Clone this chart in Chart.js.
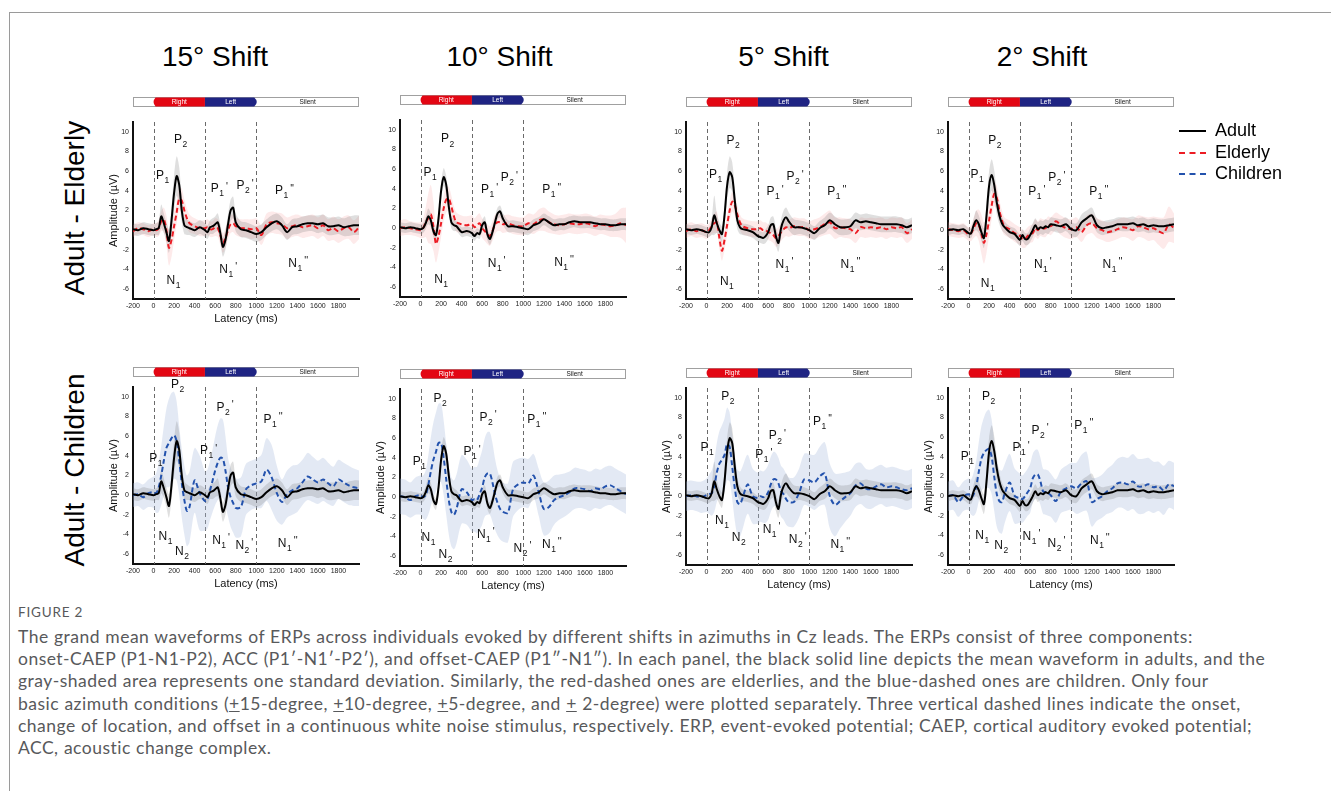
<!DOCTYPE html>
<html lang="en">
<head>
<meta charset="utf-8">
<title>Figure 2 - ERP grand mean waveforms</title>
<script src="https://cdn.jsdelivr.net/npm/chart.js@4"></script>
<style>
  body { margin: 0; width: 1331px; height: 791px; background: #fff; position: relative; overflow: hidden;
         font-family: "Liberation Sans", Arial, sans-serif; color: #000; }
  .frame { position: absolute; left: 9px; top: 12px; width: 1330px; height: 800px;
           border-top: 1px solid #9a9a9a; border-left: 1px solid #9a9a9a; }
  .coltitle { position: absolute; top: 57px; font-size: 28px; transform: translate(-50%, -50%); white-space: nowrap; }
  .rowlabel { position: absolute; font-size: 28px; white-space: nowrap; transform: translate(-50%, -50%) rotate(-90deg); }
  canvas { position: absolute; }
  .legend { position: absolute; left: 1179px; top: 120px; font-size: 18px; }
  .legend div { height: 21.5px; line-height: 21.5px; white-space: nowrap; }
  .legend span { display: inline-block; width: 27px; margin-right: 9px; vertical-align: middle; }
  .caption { position: absolute; left: 18px; font-family: Lato, "Open Sans", sans-serif; color: #58595b; }
  .caption.fig { top: 604px; font-size: 13.5px; letter-spacing: 0.8px; }
  .caption.text { top: 626px; font-size: 17.5px; line-height: 22.2px; letter-spacing: 0.48px; word-spacing: 0.4px; white-space: nowrap; }
</style>
</head>
<body>
<div class="frame"></div>
<script>
// latency grid (ms) shared by every waveform
const latency = [-200, -150, -100, -50, 0,
  25, 50, 75, 100, 125, 150, 175, 200, 225, 250, 275, 300, 325, 350,
  400, 450, 500,
  525, 550, 575, 600, 625, 650, 675, 700, 725, 750, 775, 800,
  850, 900, 950, 1000,
  1050, 1100, 1150, 1200, 1250, 1300, 1350, 1400,
  1450, 1500, 1550, 1600, 1650, 1700, 1750, 1800, 1850, 1900, 1950, 2000];

const xTicks = [-200, 0, 200, 400, 600, 800, 1000, 1200, 1400, 1600, 1800];
const yTicks = [-6, -4, -2, 0, 2, 4, 6, 8, 10];
const eventTimes = [0, 500, 1000];
const stimulus = [
  { label: 'Right', from: 0, to: 500 },
  { label: 'Left', from: 500, to: 1000 },
  { label: 'Silent', from: 1000, to: 2000 }
];
const shiftTitles = ['15° Shift', '10° Shift', '5° Shift', '2° Shift'];
const rowTitles = ['Adult - Elderly', 'Adult - Children'];
const groupNames = ['Adult', 'Elderly', 'Children'];

// ---- 15 degree ----
const adult15 = [0.1, 0.0, 0.2, 0.1, 0.0,
  0.1, 0.2, 1.4, 0.7, -0.2, -1.1, 1.0, 3.8, 5.5, 4.6, 2.0, 0.5, 0.3, 0.2,
  0.0, 0.3, 0.0,
  -0.2, 0.3, 0.4, 0.6, 0.8, -0.3, -1.7, -1.0, 0.6, 2.0, 2.3, 0.8,
  0.1, 0.0, -0.2, -0.4,
  -0.2, 0.3, 0.7, 0.9, 0.5, -0.2, 0.3, 0.4,
  0.6, 0.7, 0.7, 0.6, 0.7, 0.4, 0.4, 0.5, 0.3, 0.4, 0.5, 0.5];
const adultSd15 = [0.6, 0.6, 0.6, 0.6, 0.6,
  0.6, 0.7, 1.2, 1.0, 1.0, 1.2, 1.4, 1.8, 2.0, 1.8, 1.2, 0.9, 0.8, 0.7,
  0.7, 0.7, 0.7,
  0.7, 0.7, 0.8, 0.8, 0.9, 0.9, 1.0, 1.0, 1.0, 1.1, 1.1, 0.9,
  0.8, 0.8, 0.8, 0.8,
  0.8, 0.8, 0.8, 0.8, 0.8, 0.8, 0.8, 0.8,
  0.8, 0.8, 0.8, 0.9, 0.9, 0.9, 0.9, 0.9, 0.9, 1.0, 1.0, 1.0];
const elderly15 = [-0.1, 0.2, 0.1, -0.1, 0.1,
  0.0, 0.2, 0.9, 1.1, 0.0, -1.8, -1.0, 0.4, 1.8, 3.2, 3.0, 2.0, 1.2, 0.7,
  0.4, 0.2, 0.2,
  0.3, 0.1, 0.1, 0.3, 0.2, -0.5, -1.3, -0.8, 0.0, 0.6, 0.7, 0.4,
  0.2, 0.2, 0.1, 0.2,
  -0.5, 0.6, 0.8, 0.7, 0.6, 0.2, 0.4, 0.5,
  0.3, 0.4, 0.5, 0.2, 0.5, 0.0, 0.2, -0.1, 0.2, 0.3, -0.2, 0.3];
const elderlySd15 = [0.6, 0.6, 0.6, 0.6, 0.6,
  0.7, 0.8, 1.0, 1.2, 1.5, 1.8, 1.7, 1.4, 1.2, 1.2, 1.2, 1.1, 1.0, 0.9,
  0.8, 0.8, 0.8,
  0.8, 0.8, 0.8, 0.9, 0.9, 1.0, 1.0, 1.0, 0.9, 0.9, 0.9, 0.9,
  0.9, 0.9, 1.0, 1.0,
  1.0, 1.1, 1.1, 1.1, 1.1, 1.1, 1.1, 1.1,
  1.1, 1.1, 1.1, 1.1, 1.1, 1.1, 1.2, 1.2, 1.2, 1.2, 1.2, 1.2];
const children15 = [0.0, 0.1, -0.2, 0.2, 0.3,
  0.2, 0.8, 2.0, 3.5, 4.8, 5.3, 5.8, 6.1, 5.5, 3.5, 1.2, -0.5, -1.6, -1.2,
  1.5, 0.2, -0.6,
  -0.4, 0.5, 1.5, 2.5, 3.3, 3.8, 3.7, 2.5, 0.8, -0.2, -0.8, -1.3,
  -1.2, 0.6, 1.0, 1.2,
  1.4, 2.6, 1.8, 0.2, -0.7, 0.1, 0.5, 0.7,
  1.3, 1.9, 1.6, 1.3, 1.6, 1.2, 0.9, 1.6, 1.3, 1.0, 0.8, 0.7];
const childrenSd15 = [1.2, 1.2, 1.3, 1.4, 1.6,
  2.0, 2.5, 3.0, 3.5, 4.0, 4.5, 4.6, 4.4, 4.0, 3.5, 3.5, 3.5, 3.6, 3.6,
  3.3, 3.8, 3.0,
  3.0, 3.0, 3.2, 3.5, 3.8, 4.0, 4.0, 3.5, 3.0, 3.0, 3.0, 3.0,
  3.0, 2.6, 2.5, 2.5,
  2.7, 3.2, 3.3, 2.8, 2.3, 2.4, 2.5, 2.4,
  2.3, 2.4, 2.3, 2.2, 2.2, 2.1, 2.0, 2.0, 2.0, 2.0, 1.9, 1.8];

// ---- 10 degree ----
const adult10 = [0.1, 0.0, 0.1, 0.0, -0.1,
  0.0, 0.5, 1.2, 0.8, -0.3, -0.7, 1.0, 3.8, 5.2, 4.4, 2.2, 0.6, 0.3, 0.2,
  -0.4, -0.3, -0.5,
  -0.8, -0.5, -0.6, 0.3, 0.6, -0.6, -1.1, -0.4, 0.6, 1.5, 1.7, 1.0,
  0.2, 0.2, 0.1, 0.0,
  -0.1, 0.3, 0.5, 0.9, 0.6, 0.3, 0.4, 0.4,
  0.6, 0.7, 0.6, 0.6, 0.6, 0.5, 0.4, 0.4, 0.3, 0.3, 0.4, 0.4];
const adultSd10 = [0.5, 0.5, 0.5, 0.5, 0.5,
  0.5, 0.6, 0.8, 0.7, 0.6, 0.6, 0.7, 0.8, 0.9, 0.9, 0.8, 0.6, 0.6, 0.5,
  0.5, 0.5, 0.5,
  0.5, 0.5, 0.5, 0.5, 0.6, 0.6, 0.6, 0.6, 0.6, 0.6, 0.6, 0.6,
  0.6, 0.6, 0.6, 0.6,
  0.6, 0.6, 0.6, 0.6, 0.6, 0.6, 0.6, 0.6,
  0.6, 0.6, 0.6, 0.6, 0.6, 0.6, 0.6, 0.6, 0.6, 0.6, 0.6, 0.6];
const elderly10 = [0.0, 0.1, 0.0, -0.1, -0.2,
  0.0, 0.6, 1.0, 1.4, 0.2, -1.6, -0.8, 0.5, 2.0, 2.9, 3.0, 2.2, 1.2, 0.6,
  0.4, 0.3, 0.4,
  0.1, 0.3, 0.5, 0.0, -0.3, -0.6, -0.8, -0.3, 0.4, 0.6, 0.6, 0.4,
  0.5, 0.3, 0.2, 0.2,
  0.5, 0.4, 0.8, 0.9, 0.6, 0.4, 0.3, 0.4,
  0.5, 0.4, 0.4, 0.5, 0.4, 0.2, 0.4, 0.3, 0.2, 0.3, 0.5, 0.3];
const elderlySd10 = [0.8, 0.8, 0.7, 0.7, 0.8,
  1.0, 1.5, 2.5, 3.0, 2.5, 1.9, 1.6, 1.4, 1.3, 1.3, 1.2, 1.1, 1.0, 1.0,
  0.9, 0.9, 0.9,
  0.9, 1.0, 1.0, 1.0, 1.0, 1.0, 1.0, 1.0, 1.0, 0.9, 0.9, 0.9,
  0.9, 0.9, 0.9, 0.9,
  1.0, 1.0, 1.1, 1.2, 1.1, 1.0, 1.0, 1.0,
  1.0, 1.0, 1.0, 1.0, 1.0, 1.0, 1.0, 1.0, 1.1, 1.2, 1.5, 1.8];
const children10 = [0.1, 0.0, -0.3, 0.1, 0.2,
  0.0, 0.2, 1.2, 2.6, 3.8, 4.6, 5.5, 5.5, 4.0, 1.8, -0.3, -1.5, -1.8, -1.2,
  0.8, 0.5, -0.3,
  -0.2, -0.3, 0.3, 1.0, 2.0, 2.4, 2.4, 1.5, 0.3, -0.6, -1.2, -1.5,
  -1.6, 0.8, 1.3, 1.5,
  1.4, 2.2, 0.5, -1.2, -1.0, -0.3, 0.0, 0.2,
  0.5, 0.9, 0.9, 0.8, 0.6, 0.9, 0.8, 1.1, 1.2, 0.9, 0.6, 0.3];
const childrenSd10 = [1.8, 1.8, 1.8, 1.9, 2.0,
  2.2, 2.5, 3.0, 3.5, 3.8, 4.0, 4.0, 4.0, 3.8, 3.6, 3.5, 3.5, 3.5, 3.5,
  3.5, 3.3, 3.2,
  3.3, 3.4, 3.6, 3.8, 4.0, 4.2, 4.2, 4.0, 3.6, 3.3, 3.1, 3.0,
  3.0, 2.8, 2.6, 2.5,
  2.5, 2.2, 2.4, 2.7, 2.7, 2.5, 2.3, 2.2,
  2.1, 2.1, 2.0, 2.0, 2.0, 2.0, 2.0, 2.0, 2.0, 2.0, 2.0, 2.0];

// ---- 5 degree ----
const adult5 = [0.1, 0.0, 0.1, 0.0, -0.2,
  -0.2, 0.3, 1.5, 0.7, 0.0, -0.4, 1.5, 4.5, 5.9, 5.4, 3.0, 1.0, 0.3, 0.1,
  0.0, -0.2, -0.6,
  -0.7, -0.8, -0.6, -0.2, 0.5, 0.6, -0.6, -1.3, 0.2, 1.0, 1.3, 0.9,
  0.3, 0.3, 0.2, 0.0,
  -0.3, 0.2, 0.5, 1.0, 0.6, 0.3, 0.3, 0.4,
  1.0, 0.8, 0.9, 0.8, 0.7, 0.6, 0.6, 0.6, 0.6, 0.5, 0.3, 0.5];
const adultSd5 = [0.5, 0.5, 0.5, 0.5, 0.5,
  0.5, 0.8, 2.0, 1.0, 0.8, 0.8, 1.0, 1.4, 1.6, 1.5, 1.2, 0.9, 0.7, 0.6,
  0.6, 0.6, 0.6,
  0.6, 0.6, 0.7, 0.7, 0.8, 0.8, 0.9, 0.9, 0.9, 1.0, 1.0, 0.9,
  0.8, 0.7, 0.7, 0.7,
  0.7, 0.7, 0.8, 0.8, 0.8, 0.8, 0.8, 0.8,
  0.8, 0.8, 0.8, 0.8, 0.8, 0.8, 0.8, 0.8, 0.8, 0.8, 0.8, 0.8];
const elderly5 = [-0.1, 0.1, -0.1, 0.0, -0.2,
  0.0, 0.4, 0.7, 0.8, -0.8, -2.1, -1.0, 0.5, 2.0, 2.9, 2.5, 1.6, 0.8, 0.4,
  0.2, 0.1, 0.1,
  0.2, 0.0, 0.0, -0.2, -0.3, -0.5, -0.8, -0.6, -0.2, 0.1, 0.3, 0.2,
  0.4, 0.3, 0.3, 0.0,
  0.1, 0.3, 0.6, 0.8, 0.2, 0.3, 0.2, 0.1,
  -0.3, 0.3, 0.2, 0.3, 0.2, 0.3, 0.1, 0.3, 0.2, 0.3, -0.3, 0.1];
const elderlySd5 = [0.7, 0.7, 0.7, 0.7, 0.7,
  0.7, 0.8, 1.0, 1.1, 1.1, 1.0, 1.0, 1.0, 1.0, 1.0, 1.0, 0.9, 0.8, 0.8,
  0.8, 0.8, 0.8,
  0.8, 0.8, 0.8, 0.8, 0.8, 0.8, 0.9, 0.9, 0.9, 0.9, 0.9, 0.9,
  0.9, 0.9, 0.9, 0.9,
  1.0, 1.0, 1.1, 1.2, 1.1, 1.0, 1.0, 1.0,
  1.0, 1.0, 1.0, 1.0, 1.0, 1.0, 1.0, 1.0, 1.0, 1.0, 1.0, 1.0];
const children5 = [0.0, 0.1, 0.0, -0.1, 0.1,
  0.2, 0.3, 1.0, 2.4, 3.3, 3.7, 4.2, 5.3, 5.0, 3.0, 0.8, -0.6, -0.8, -0.2,
  1.2, 0.0, -0.2,
  0.0, -0.1, 0.0, 0.4, 1.2, 1.7, 1.7, 1.3, 0.5, 0.2, -0.3, -0.6,
  -0.6, 0.3, 1.7, 1.6,
  1.4, 2.0, 2.3, 0.0, -0.9, -0.5, -0.1, 0.3,
  1.1, 1.3, 0.8, 0.7, 1.0, 1.2, 0.9, 1.0, 0.9, 0.7, 0.6, 0.8];
const childrenSd5 = [1.5, 1.5, 1.5, 1.6, 1.7,
  2.0, 2.3, 2.6, 3.0, 3.3, 3.5, 3.7, 3.7, 3.5, 3.3, 3.3, 3.3, 3.3, 3.2,
  3.0, 2.8, 2.6,
  2.6, 2.6, 2.7, 2.8, 2.8, 2.8, 2.7, 2.6, 2.6, 2.6, 2.6, 2.5,
  2.5, 2.5, 2.6, 2.7,
  2.8, 3.0, 3.2, 3.3, 3.2, 2.8, 2.5, 2.3,
  2.2, 2.1, 2.0, 2.0, 2.0, 2.0, 2.0, 2.0, 2.0, 2.0, 2.0, 2.0];

// ---- 2 degree ----
const adult2 = [0.0, 0.1, 0.0, 0.1, -0.3,
  -0.3, 0.5, 1.0, 0.6, -0.2, -0.8, 1.5, 4.5, 5.6, 4.6, 2.8, 1.5, 0.7, 0.3,
  -0.2, -0.4, -1.0,
  -0.5, -0.9, -0.9, -0.5, 0.0, 0.5, 0.1, 0.3, 0.2, 0.4, 0.3, 0.6,
  0.5, 0.4, 0.6, 0.1,
  0.0, 0.8, 1.2, 1.5, 0.5, 0.2, 0.3, 0.4,
  0.6, 0.6, 0.6, 0.7, 0.5, 0.6, 0.4, 0.5, 0.4, 0.4, 0.5, 0.6];
const adultSd2 = [0.5, 0.5, 0.5, 0.5, 0.5,
  0.5, 0.7, 1.0, 0.9, 0.9, 1.0, 1.3, 1.5, 1.6, 1.5, 1.2, 0.9, 0.7, 0.6,
  0.6, 0.6, 0.6,
  0.6, 0.6, 0.6, 0.7, 0.7, 0.7, 0.7, 0.7, 0.7, 0.7, 0.7, 0.7,
  0.7, 0.7, 0.7, 0.7,
  0.7, 0.8, 0.8, 0.8, 0.7, 0.7, 0.7, 0.7,
  0.7, 0.7, 0.7, 0.7, 0.7, 0.7, 0.7, 0.7, 0.7, 0.7, 0.7, 0.7];
const elderly2 = [0.1, 0.0, -0.1, 0.0, -0.4,
  -0.3, 0.2, 0.7, 0.5, -0.4, -1.3, -0.4, 1.0, 2.5, 3.7, 3.3, 2.0, 1.0, 0.4,
  0.1, -0.3, -0.6,
  -0.9, -0.9, -0.6, -0.4, -0.3, 0.2, 0.0, 0.3, 0.2, 0.2, 0.5, 0.4,
  0.9, 0.5, 0.2, 0.1,
  0.3, -0.2, 0.5, 0.7, 0.2, 0.0, -0.2, -0.1,
  0.1, 0.3, 0.2, 0.0, 0.4, 0.3, 0.1, 0.2, -0.1, -0.3, 0.6, 0.2];
const elderlySd2 = [0.7, 0.7, 0.7, 0.7, 0.7,
  0.8, 1.0, 1.3, 1.6, 2.0, 2.1, 1.9, 1.6, 1.4, 1.3, 1.2, 1.1, 1.0, 0.9,
  0.9, 0.9, 0.9,
  0.9, 0.9, 0.9, 0.9, 0.9, 0.9, 0.9, 0.9, 0.9, 0.9, 0.9, 0.9,
  0.9, 1.0, 1.0, 1.0,
  1.0, 1.0, 1.0, 1.0, 1.0, 1.0, 1.0, 1.0,
  1.0, 1.0, 1.0, 1.1, 1.1, 1.1, 1.2, 1.2, 1.4, 1.6, 1.8, 1.5];
const children2 = [0.0, 0.1, -0.6, 0.0, 0.2,
  -0.1, 0.2, 1.0, 2.5, 3.8, 4.4, 4.7, 4.8, 4.0, 2.0, 0.2, -0.5, -0.6, 0.2,
  1.4, 0.0, -0.2,
  -0.3, 0.0, 0.4, 0.8, 1.8, 2.2, 2.2, 1.5, 0.5, 0.4, 0.3, 0.1,
  -0.5, 0.5, 0.8, 1.0,
  0.8, 1.3, 1.5, -0.6, -0.3, 0.0, 0.5, 0.8,
  1.3, 1.4, 1.2, 1.5, 1.0, 1.0, 1.2, 0.9, 1.0, 0.6, 1.2, 1.0];
const childrenSd2 = [1.5, 1.5, 1.5, 1.5, 1.6,
  1.8, 2.2, 2.6, 3.0, 3.3, 3.6, 3.9, 4.0, 3.8, 3.5, 3.3, 3.2, 3.2, 3.0,
  2.9, 2.8, 2.5,
  2.4, 2.4, 2.4, 2.5, 2.5, 2.5, 2.5, 2.4, 2.3, 2.3, 2.3, 2.2,
  2.2, 2.2, 2.3, 2.4,
  2.6, 2.9, 3.0, 2.5, 2.2, 2.2, 2.3, 2.4,
  2.5, 2.6, 2.7, 2.8, 2.8, 2.8, 2.7, 2.6, 2.5, 2.5, 2.4, 2.4];

// component labels: [letter, subscript, prime, latency, amplitude]
const labelsE15 = [['P','2','',198,9.2],['P','1','',23,5.5],['P','1',"'",558,4.2],['P','2',"'",808,4.5],['P','1',"''",1182,4.0],
  ['N','1','',127,-5.1],['N','1',"'",640,-4.0],['N','1',"''",1312,-3.4]];
const labelsE10 = [['P','2','',200,9.05],['P','1','',29,5.6],['P','1',"'",589,3.9],['P','2',"'",780,5.1],['P','1',"''",1184,3.9],
  ['N','1','',133,-5.2],['N','1',"'",654,-3.6],['N','1',"''",1301,-3.5]];
const labelsE5 = [['P','2','',195,9.15],['P','1','',23,5.6],['P','1',"'",584,3.9],['P','2',"'",779,5.4],['P','1',"''",1175,3.9],
  ['N','1','',130,-5.2],['N','1',"'",672,-3.5],['N','1',"''",1305,-3.5]];
const labelsE2 = [['P','2','',192,9.1],['P','1','',19,5.6],['P','1',"'",581,3.9],['P','2',"'",776,5.3],['P','1',"''",1175,3.9],
  ['N','1','',120,-5.4],['N','1',"'",636,-3.5],['N','1',"''",1305,-3.5]];
const labelsC15 = [['P','2','',171,11.2],['P','1','',-42,3.7],['P','1',"'",452,4.5],['P','2',"'",613,8.9],['P','1',"''",1071,7.7],
  ['N','1','',48,-4.2],['N','2','',210,-5.7],['N','1',"'",571,-4.6],['N','2',"'",797,-5.1],['N','1',"''",1210,-4.9]];
const labelsC10 = [['P','2','',127,10.0],['P','1','',-75,3.6],['P','1',"'",419,4.6],['P','2',"'",575,8.1],['P','1',"''",1039,7.9],
  ['N','1','',10,-4.1],['N','2','',175,-5.8],['N','1',"'",549,-3.8],['N','2',"'",906,-5.2],['N','1',"''",1182,-4.8]];
const labelsC5 = [['P','2','',144,10.1],['P','1','',-59,4.9],['P','1',"'",474,4.2],['P','2',"'",605,6.1],['P','1',"''",1036,7.6],
  ['N','1','',82,-2.5],['N','2','',245,-4.2],['N','1',"'",546,-3.4],['N','2',"'",801,-4.4],['N','1',"''",1206,-4.9]];
const labelsC2 = [['P','2','',130,10.1],['P','1','',-75,4.0],['P','1',"'",429,4.9],['P','2',"'",614,6.7],['P','1',"''",1029,7.2],
  ['N','1','',65,-4.0],['N','2','',250,-5.0],['N','1',"'",526,-4.1],['N','2',"'",769,-4.8],['N','1',"''",1182,-4.5]];

// layout
const FONT = '"Liberation Sans", Arial, sans-serif';
const plotLeft = [133, 400, 686, 948];
const plotTop = [[122, 120, 122, 122], [387, 389, 388, 388]];
const barOffset = [25, 20];
const PW = 226, PH = 177, AXW = 30, AXH = 31, PADT = 40, PADR = 6;
const colors = {
  adult: '#000000',
  elderly: '#ec1c24',
  children: '#2352ad',
  adultBand: 'rgba(110,110,110,0.22)',
  elderlyBand: 'rgba(246,150,150,0.2)',
  childrenBand: 'rgba(170,188,222,0.33)',
  right: '#e30613',
  left: '#1f2483'
};

const panels = [
  { row: 0, col: 0, adult: adult15, adultSd: adultSd15, grp: elderly15, grpSd: elderlySd15, kind: 'elderly', labels: labelsE15 },
  { row: 0, col: 1, adult: adult10, adultSd: adultSd10, grp: elderly10, grpSd: elderlySd10, kind: 'elderly', labels: labelsE10 },
  { row: 0, col: 2, adult: adult5, adultSd: adultSd5, grp: elderly5, grpSd: elderlySd5, kind: 'elderly', labels: labelsE5 },
  { row: 0, col: 3, adult: adult2, adultSd: adultSd2, grp: elderly2, grpSd: elderlySd2, kind: 'elderly', labels: labelsE2 },
  { row: 1, col: 0, adult: adult15, adultSd: adultSd15, grp: children15, grpSd: childrenSd15, kind: 'children', labels: labelsC15 },
  { row: 1, col: 1, adult: adult10, adultSd: adultSd10, grp: children10, grpSd: childrenSd10, kind: 'children', labels: labelsC10 },
  { row: 1, col: 2, adult: adult5, adultSd: adultSd5, grp: children5, grpSd: childrenSd5, kind: 'children', labels: labelsC5 },
  { row: 1, col: 3, adult: adult2, adultSd: adultSd2, grp: children2, grpSd: childrenSd2, kind: 'children', labels: labelsC2 }
];

// dashed onset / change / offset lines
const eventLines = {
  id: 'eventLines',
  beforeDatasetsDraw(chart) {
    const { ctx, chartArea, scales } = chart;
    ctx.save();
    ctx.strokeStyle = '#6a6a6a';
    ctx.lineWidth = 1;
    ctx.setLineDash([4, 3]);
    for (const t of eventTimes) {
      const x = Math.round(scales.x.getPixelForValue(t)) + 0.5;
      ctx.beginPath();
      ctx.moveTo(x, chartArea.top);
      ctx.lineTo(x, chartArea.bottom);
      ctx.stroke();
    }
    ctx.restore();
  }
};

// P1, N1 ... component labels
const componentLabels = {
  id: 'componentLabels',
  afterDatasetsDraw(chart, args, opts) {
    const { ctx, scales } = chart;
    ctx.save();
    ctx.fillStyle = '#111';
    ctx.textBaseline = 'middle';
    ctx.textAlign = 'left';
    for (const [t, s, p, lx, ly] of opts.items || []) {
      const x = scales.x.getPixelForValue(lx);
      const y = scales.y.getPixelForValue(ly);
      ctx.font = '12px ' + FONT;
      ctx.fillText(t, x, y);
      const w = ctx.measureText(t).width;
      ctx.font = '8.5px ' + FONT;
      ctx.fillText(s, x + w + 0.5, y + 5);
      const w2 = ctx.measureText(s).width;
      if (p) {
        ctx.font = '10px ' + FONT;
        ctx.fillText(p, x + w + w2 + 2.5, y - 2);
      }
    }
    ctx.restore();
  }
};

// Right / Left / Silent stimulus bar above each plot
const stimulusBar = {
  id: 'stimulusBar',
  afterDraw(chart, args, opts) {
    const { ctx, chartArea, scales } = chart;
    const top = chartArea.top - opts.offset;
    const h = 9;
    const bot = top + h, mid = top + h / 2;
    ctx.save();
    ctx.fillStyle = '#fff';
    ctx.fillRect(chartArea.left, top, chartArea.width, h);
    ctx.strokeStyle = '#a0a0a0';
    ctx.lineWidth = 1;
    ctx.strokeRect(chartArea.left + 0.5, top + 0.5, chartArea.width - 1, h);
    ctx.font = '6.5px ' + FONT;
    ctx.textAlign = 'center';
    ctx.textBaseline = 'middle';
    for (const seg of stimulus) {
      const x0 = scales.x.getPixelForValue(seg.from);
      const x1 = scales.x.getPixelForValue(seg.to);
      if (seg.label === 'Right') {
        ctx.fillStyle = colors.right;
        ctx.beginPath();
        ctx.moveTo(x0 + 2, top + 0.5);
        ctx.lineTo(x1, top + 0.5);
        ctx.lineTo(x1, bot + 0.5);
        ctx.lineTo(x0 + 2, bot + 0.5);
        ctx.quadraticCurveTo(x0 - 2, mid + 0.5, x0 + 2, top + 0.5);
        ctx.fill();
        ctx.fillStyle = '#fff';
      } else if (seg.label === 'Left') {
        ctx.fillStyle = colors.left;
        ctx.beginPath();
        ctx.moveTo(x0, top + 0.5);
        ctx.lineTo(x1 - 2, top + 0.5);
        ctx.quadraticCurveTo(x1 + 3, mid + 0.5, x1 - 2, bot + 0.5);
        ctx.lineTo(x0, bot + 0.5);
        ctx.fill();
        ctx.fillStyle = '#fff';
      } else {
        ctx.fillStyle = '#111';
      }
      ctx.fillText(seg.label, (x0 + x1) / 2, mid + 1);
    }
    ctx.restore();
  }
};

const pts = (arr) => latency.map((t, i) => ({ x: t, y: arr[i] }));
const upper = (m, s) => latency.map((t, i) => ({ x: t, y: m[i] + s[i] }));
const lower = (m, s) => latency.map((t, i) => ({ x: t, y: m[i] - s[i] }));

function addText(cls, text, x, y) {
  const d = document.createElement('div');
  d.className = cls;
  d.textContent = text;
  d.style.left = x + 'px';
  d.style.top = y + 'px';
  document.body.appendChild(d);
}

const titleX = [215, 499.5, 783.5, 1042];
shiftTitles.forEach((t, i) => addText('coltitle', t, titleX[i], 57));
addText('rowlabel', rowTitles[0], 75, 208);
addText('rowlabel', rowTitles[1], 75, 470);

for (const p of panels) {
  const canvas = document.createElement('canvas');
  canvas.width = AXW + PW + PADR;
  canvas.height = PADT + PH + AXH;
  canvas.style.left = (plotLeft[p.col] - AXW) + 'px';
  canvas.style.top = (plotTop[p.row][p.col] - PADT) + 'px';
  document.body.appendChild(canvas);

  const showX = p.row === 1 || p.col === 0;
  const showY = p.row === 1 || p.col === 0;
  const grpColor = colors[p.kind];
  const grpBand = colors[p.kind + 'Band'];

  new Chart(canvas, {
    type: 'line',
    data: {
      datasets: [
        { data: upper(p.grp, p.grpSd), fill: '+1', backgroundColor: grpBand, borderWidth: 0, order: 6 },
        { data: lower(p.grp, p.grpSd), fill: false, borderWidth: 0, order: 6 },
        { data: upper(p.adult, p.adultSd), fill: '+1', backgroundColor: colors.adultBand, borderWidth: 0, order: 5 },
        { data: lower(p.adult, p.adultSd), fill: false, borderWidth: 0, order: 5 },
        { label: p.kind === 'elderly' ? groupNames[1] : groupNames[2], data: pts(p.grp), fill: false,
          borderColor: grpColor, borderWidth: 2, borderDash: [5, 3], order: 2 },
        { label: groupNames[0], data: pts(p.adult), fill: false, borderColor: colors.adult, borderWidth: 2, order: 1 }
      ]
    },
    options: {
      responsive: false,
      animation: false,
      events: [],
      layout: { padding: { top: PADT, right: PADR, left: 0, bottom: 0 } },
      elements: { point: { radius: 0 }, line: { tension: 0.3 } },
      plugins: {
        legend: { display: false },
        tooltip: { enabled: false },
        componentLabels: { items: p.labels },
        stimulusBar: { offset: barOffset[p.row] }
      },
      scales: {
        x: {
          type: 'linear', min: -200, max: 2000,
          afterBuildTicks: (s) => { s.ticks = xTicks.map((v) => ({ value: v })); },
          afterFit: (s) => { s.height = AXH; },
          grid: { display: true, drawOnChartArea: false, drawTicks: false },
          border: { display: true, color: '#111', width: 2 },
          ticks: { autoSkip: false, maxRotation: 0, padding: 3, color: '#222', font: { size: 7, family: FONT },
                   callback: (v) => String(v) },
          title: { display: showX, text: 'Latency (ms)', color: '#111', font: { size: 11, family: FONT }, padding: { top: 4, bottom: 4 } }
        },
        y: {
          min: -7, max: 11,
          afterBuildTicks: (s) => { s.ticks = yTicks.map((v) => ({ value: v })); },
          afterFit: (s) => { s.width = AXW; },
          grid: { display: true, drawOnChartArea: false, drawTicks: false },
          border: { display: true, color: '#111', width: 2 },
          ticks: { padding: 4, color: '#222', font: { size: 7, family: FONT }, callback: (v) => String(v) },
          title: { display: showY, text: 'Amplitude (µV)', color: '#111', font: { size: 11, family: FONT }, padding: { top: 4, bottom: 4 } }
        }
      }
    },
    plugins: [eventLines, componentLabels, stimulusBar]
  });
}

// legend
const legend = document.createElement('div');
legend.className = 'legend';
const legendStyles = [
  'border-top: 2.5px solid ' + colors.adult,
  'border-top: 2.5px dashed ' + colors.elderly,
  'border-top: 2.5px dashed ' + colors.children
];
groupNames.forEach((n, i) => {
  const row = document.createElement('div');
  const sw = document.createElement('span');
  sw.style.cssText = legendStyles[i];
  row.appendChild(sw);
  row.appendChild(document.createTextNode(n));
  legend.appendChild(row);
});
document.body.appendChild(legend);
</script>

<div class="caption fig">FIGURE 2</div>
<div class="caption text">
The grand mean waveforms of ERPs across individuals evoked by different shifts in azimuths in Cz leads. The ERPs consist of three components:<br>
onset-CAEP (P1-N1-P2), ACC (P1′-N1′-P2′), and offset-CAEP (P1″-N1″). In each panel, the black solid line depicts the mean waveform in adults, and the<br>
gray-shaded area represents one standard deviation. Similarly, the red-dashed ones are elderlies, and the blue-dashed ones are children. Only four<br>
basic azimuth conditions (<u>+</u>15-degree, <u>+</u>10-degree, <u>+</u>5-degree, and <u>+</u> 2-degree) were plotted separately. Three vertical dashed lines indicate the onset,<br>
change of location, and offset in a continuous white noise stimulus, respectively. ERP, event-evoked potential; CAEP, cortical auditory evoked potential;<br>
ACC, acoustic change complex.
</div>
</body>
</html>
